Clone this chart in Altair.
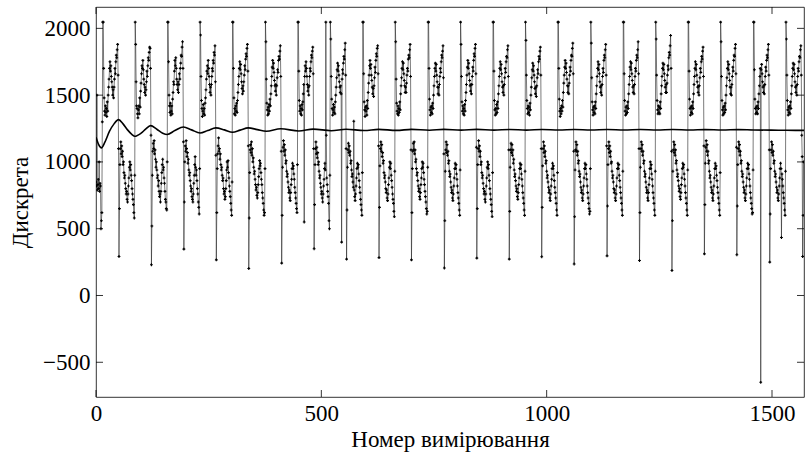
import altair as alt
import pandas as pd

# ---- samples, sample number = position in the series ----
seg00 = [850, 820, 1500, 790, 830, 870, 800, 1000, 780, 840, 820, 500, 560, 620, 1300]

cyc01 = [2047, 2047, 1700, 1480, 1380, 1350, 1420, 1370, 1400, 1340, 1450, 1380,
         1500, 1560, 1620, 1700, 1750, 1680, 1720, 1640, 1600, 1560, 1500, 1540,
         1480, 1560, 1620, 1700, 1660, 1750, 1800, 1780, 1840, 1880, 1650, 1100,
         292, 650, 980, 1100, 1150, 1060, 1120, 1040, 1080, 980, 1000, 920,
         880, 900, 840, 800, 760, 780, 720, 700, 760, 820, 880, 960,
         1000, 940, 980, 900, 860, 800, 760, 720, 680, 620, 580, 900]
cyc02 = [2047, 1880, 1600, 1420, 1400, 1360, 1330, 1390, 1420, 1360, 1480, 1410,
         1530, 1590, 1660, 1720, 1700, 1760, 1690, 1620, 1580, 1520, 1560, 1500,
         1540, 1600, 1680, 1640, 1720, 1780, 1760, 1820, 1860, 1850, 1700, 1200,
         230, 520, 900, 1080, 1140, 1100, 1160, 1060, 1090, 1020, 960, 1000,
         940, 880, 900, 820, 860, 780, 740, 760, 700, 780, 840, 920,
         980, 1020, 940, 960, 880, 840, 780, 720, 700, 650, 640, 1000]
cyc03 = [2047, 2047, 1750, 1500, 1420, 1370, 1440, 1350, 1380, 1420, 1360, 1470,
         1520, 1600, 1580, 1680, 1760, 1720, 1780, 1700, 1620, 1580, 1540, 1600,
         1520, 1580, 1660, 1620, 1700, 1740, 1800, 1790, 1860, 1900, 1700, 1150,
         347, 700, 1000, 1120, 1080, 1160, 1100, 1040, 1070, 990, 1020, 940,
         900, 920, 860, 820, 780, 800, 740, 720, 700, 760, 840, 900,
         980, 1040, 960, 900, 940, 860, 800, 760, 700, 660, 610, 950]
cyc04 = [2047, 1950, 1640, 1460, 1400, 1340, 1380, 1430, 1360, 1400, 1350, 1440,
         1480, 1540, 1620, 1680, 1720, 1660, 1760, 1700, 1640, 1580, 1520, 1560,
         1500, 1580, 1640, 1700, 1680, 1760, 1740, 1820, 1800, 1870, 1600, 1050,
         267, 620, 950, 1060, 1120, 1180, 1080, 1100, 1020, 1060, 980, 940,
         960, 900, 860, 880, 800, 760, 780, 720, 740, 800, 860, 940,
         1000, 960, 1010, 920, 880, 820, 780, 740, 690, 640, 600, 850]
cyc05 = [2047, 2047, 1700, 1480, 1360, 1400, 1350, 1420, 1380, 1440, 1370, 1460,
         1520, 1580, 1640, 1700, 1750, 1690, 1730, 1660, 1600, 1550, 1510, 1570,
         1530, 1600, 1650, 1720, 1690, 1770, 1810, 1790, 1850, 1880, 1680, 1120,
         202, 580, 920, 1090, 1130, 1070, 1150, 1050, 1100, 1000, 1030, 960,
         910, 930, 870, 830, 790, 810, 750, 730, 770, 830, 890, 950,
         1010, 970, 990, 920, 870, 830, 770, 730, 690, 640, 600, 620, 950]
cyc06 = [2047, 1900, 1620, 1440, 1390, 1350, 1410, 1360, 1430, 1380, 1470, 1420,
         1510, 1570, 1640, 1710, 1760, 1700, 1740, 1670, 1610, 1570, 1530, 1580,
         1500, 1570, 1630, 1690, 1670, 1760, 1790, 1770, 1830, 1870, 1640, 1080,
         242, 600, 960, 1110, 1160, 1080, 1130, 1050, 1090, 990, 1010, 930,
         890, 910, 850, 810, 770, 790, 730, 710, 770, 830, 870, 950,
         990, 950, 970, 910, 870, 810, 770, 730, 690, 650, 620, 980]
cyc07 = [2047, 2047, 1680, 1460, 1380, 1420, 1360, 1400, 1350, 1430, 1390, 1450,
         1510, 1580, 550, 1640, 1720, 1680, 1750, 1700, 1640, 1580, 1530, 1560,
         1500, 1570, 1640, 1700, 1680, 1750, 1800, 1780, 1830, 1860, 1660, 1100,
         350, 680, 980, 1100, 1150, 1060, 1110, 1030, 1070, 980, 1000, 930,
         880, 900, 840, 810, 760, 780, 730, 700, 760, 820, 870, 950,
         990, 940, 2047, 1200, 880, 830, 780, 740, 690, 560, 500, 900]
cyc08 = [2047, 1920, 1640, 1470, 1400, 1350, 1390, 1430, 1370, 1410, 1360, 1450,
         1500, 1560, 1630, 1690, 1740, 1680, 1720, 1650, 1600, 1560, 1520, 1570,
         1510, 400, 1620, 1690, 1660, 1740, 1790, 1770, 1840, 1890, 1650, 1100,
         272, 640, 960, 1090, 1140, 1070, 1120, 1050, 1080, 990, 1010, 940,
         890, 910, 850, 810, 1305, 790, 740, 710, 760, 820, 880, 950,
         990, 960, 980, 910, 860, 810, 770, 720, 680, 640, 600, 920]
cyc09 = [2047, 2047, 1660, 1450, 1390, 1340, 1410, 1380, 1420, 1350, 1460, 1400,
         1520, 1590, 1650, 1720, 1760, 1700, 1730, 1650, 1610, 1560, 1510, 1550,
         1490, 1570, 1630, 1710, 1670, 1760, 1810, 1790, 1850, 1870, 1660, 1120,
         284, 660, 970, 1100, 1150, 1080, 1130, 1040, 1070, 990, 1010, 920,
         880, 900, 850, 800, 770, 790, 730, 710, 760, 830, 880, 960,
         1000, 950, 990, 900, 860, 810, 760, 720, 690, 630, 590, 930]
cyc10 = [2047, 1900, 1620, 1440, 1380, 1360, 1420, 1350, 1400, 1370, 1450, 1390,
         1510, 1570, 1630, 1700, 1750, 1690, 1740, 1660, 1610, 1570, 1520, 1560,
         1520, 1590, 1650, 1700, 1680, 1770, 1800, 1780, 1840, 1880, 1640, 1090,
         267, 620, 950, 1080, 1140, 1090, 1150, 1060, 1090, 1000, 1020, 950,
         900, 920, 860, 820, 780, 800, 740, 720, 770, 830, 880, 950,
         1000, 960, 990, 920, 870, 830, 780, 740, 700, 650, 610, 630, 960]
cyc11 = [2047, 2047, 1700, 1470, 1390, 1350, 1410, 1370, 1420, 1360, 1440, 1400,
         1500, 1570, 1640, 1700, 1740, 1680, 1730, 1650, 1600, 1560, 1510, 1560,
         1500, 1580, 1640, 1700, 1670, 1750, 1800, 1780, 1830, 1870, 1630, 1060,
         206, 560, 930, 1090, 1150, 1070, 1130, 1050, 1080, 990, 1010, 930,
         890, 910, 850, 810, 770, 790, 730, 710, 760, 820, 880, 950,
         990, 950, 980, 910, 870, 820, 770, 730, 690, 640, 600, 940]
cyc12 = [2047, 1880, 1640, 1450, 1380, 1420, 1360, 1400, 1350, 1430, 1380, 1460,
         1520, 1580, 1650, 1710, 1760, 1700, 1740, 1660, 1610, 1570, 1530, 1580,
         1510, 1580, 1640, 1710, 1680, 1760, 1810, 1790, 1850, 1880, 1660, 1110,
         280, 650, 980, 1100, 1160, 1080, 1120, 1040, 1080, 980, 1000, 920,
         880, 900, 840, 800, 760, 780, 720, 700, 760, 820, 880, 960,
         1000, 950, 980, 900, 860, 800, 760, 720, 680, 630, 590, 920]
cyc13 = [2047, 2047, 1680, 1460, 1390, 1350, 1400, 1360, 1430, 1370, 1450, 1400,
         1510, 1570, 1640, 1700, 1750, 1690, 1730, 1660, 1600, 1560, 1520, 1570,
         1500, 1580, 1630, 1700, 1670, 1750, 1790, 1780, 1840, 1870, 1640, 1090,
         272, 630, 960, 1090, 1140, 1070, 1130, 1050, 1090, 990, 1020, 940,
         890, 910, 860, 820, 780, 800, 740, 720, 770, 830, 880, 950,
         990, 950, 980, 910, 870, 820, 770, 730, 690, 640, 600, 930]
cyc14 = [2047, 1910, 1650, 1460, 1400, 1360, 1420, 1370, 1410, 1350, 1440, 1390,
         1500, 1560, 1630, 1690, 1740, 1680, 1720, 1650, 1600, 1550, 1510, 1560,
         1490, 1570, 1630, 1690, 1660, 1750, 1790, 1770, 1830, 1860, 1650, 1100,
         290, 660, 970, 1100, 1150, 1070, 1120, 1040, 1080, 990, 1010, 930,
         880, 900, 850, 810, 770, 790, 730, 710, 760, 820, 870, 950,
         990, 950, 970, 900, 860, 810, 770, 730, 690, 640, 600, 920]
cyc15 = [2047, 2047, 1700, 1470, 1380, 1340, 1400, 1360, 1420, 1380, 1460, 1410,
         1520, 1590, 1650, 1710, 1760, 1700, 1740, 1670, 1620, 1570, 1520, 1570,
         1510, 1590, 1650, 1710, 1680, 1760, 1800, 1790, 1850, 1890, 1660, 1080,
         236, 590, 940, 1090, 1150, 1080, 1130, 1050, 1080, 990, 1010, 930,
         890, 910, 850, 810, 770, 790, 730, 710, 760, 820, 880, 950,
         990, 950, 980, 910, 870, 820, 770, 730, 690, 650, 610, 630, 950]
cyc16 = [2047, 1890, 1630, 1450, 1390, 1350, 1410, 1370, 1420, 1360, 1450, 1400,
         1510, 1570, 1640, 1700, 1750, 1690, 1730, 1660, 1600, 1560, 1520, 1570,
         1500, 1580, 1640, 1700, 1670, 1760, 1800, 1780, 1840, 1880, 1650, 1120,
         297, 670, 980, 1100, 1150, 1070, 1120, 1040, 1080, 990, 1000, 930,
         880, 900, 850, 800, 770, 790, 730, 710, 760, 820, 880, 950,
         990, 950, 980, 900, 860, 810, 770, 730, 690, 640, 600, 930]
cyc17 = [2047, 2047, 1660, 1460, 1380, 1350, 1410, 1360, 1420, 1370, 1450, 1400,
         1510, 1580, 1640, 1710, 1750, 1690, 1740, 1660, 1610, 1560, 1520, 1570,
         1510, 1580, 1640, 1700, 1680, 1760, 1800, 1780, 1840, 1900, 1660, 1100,
         262, 620, 960, 1100, 1150, 1080, 1130, 1050, 1080, 990, 1010, 930,
         890, 910, 850, 810, 770, 790, 730, 710, 770, 830, 880, 950,
         1000, 950, 980, 910, 870, 820, 770, 730, 690, 640, 600, 930]
cyc18 = [2047, 1920, 1650, 1460, 1390, 1360, 1420, 1370, 1410, 1360, 1450, 1400,
         1510, 1570, 1640, 1700, 1740, 1690, 1730, 1660, 1610, 1560, 1520, 1580,
         1520, 1590, 1650, 1720, 1690, 1780, 1820, 1800, 1870, 1947, 1700, 1080,
         187, 560, 930, 1090, 1150, 1070, 1130, 1050, 1090, 990, 1010, 940,
         890, 910, 860, 820, 780, 800, 740, 720, 770, 830, 880, 950,
         990, 960, 980, 910, 870, 820, 770, 730, 690, 640, 600, 940]
cyc19 = [2047, 2047, 1680, 1470, 1400, 1350, 1410, 1370, 1420, 1360, 1450, 1400,
         1510, 1580, 1640, 1700, 1750, 1690, 1730, 1650, 1600, 1560, 1520, 1570,
         1500, 1570, 1630, 1700, 1670, 1750, 1790, 1770, 1830, 1860, 1640, 1120,
         312, 680, 990, 1110, 1160, 1080, 1130, 1050, 1080, 990, 1010, 930,
         880, 900, 850, 810, 770, 790, 730, 710, 760, 820, 880, 950,
         990, 950, 970, 900, 860, 810, 770, 730, 690, 640, 600, 920]
cyc20 = [2047, 1900, 1640, 1460, 1390, 1350, 1410, 1360, 1420, 1370, 1440, 1390,
         1500, 1570, 1630, 1700, 1750, 1690, 1730, 1660, 1610, 1560, 1510, 1560,
         1500, 1580, 1640, 1710, 1680, 1760, 1800, 1790, 1850, 1880, 1660, 1110,
         305, 670, 980, 1100, 1150, 1080, 1130, 1050, 1080, 990, 1010, 930,
         890, 910, 850, 810, 770, 790, 730, 710, 760, 820, 880, 950,
         990, 950, 980, 910, 870, 820, 770, 730, 690, 650, 610, 620, 940]
cyc21 = [2047, 2047, 1690, 1470, 1400, 1360, 1410, 1370, 1420, 1360, 1450, 1400,
         1510, 1570, 1640, 1700, -650, 1690, 1730, 1660, 1600, 1560, 1520, 1570,
         1510, 1580, 1640, 1710, 1680, 1760, 1800, 1780, 1840, 1880, 1650, 1090,
         250, 610, 950, 1090, 1150, 1070, 1130, 1050, 1080, 990, 1010, 930,
         890, 910, 850, 810, 770, 790, 730, 710, 760, 820, 880, 950,
         990, 950, 434, 910, 870, 820, 770, 730, 690, 640, 600, 930]
cyc22 = [2047, 1920, 1650, 1460, 1390, 1350, 1410, 1370, 1420, 1360, 1450, 1400,
         1510, 1570, 1640, 1700, 1740, 1690, 1730, 1660, 1600, 1560, 1520, 1570,
         1500, 1580, 1640, 1700, 1680, 1750, 1790, 1780, 1840, 1870, 1650, 1200,
         1040, 292, 600, 1000]

# running mean curve (sample number, value)
mean_n = [0, 6, 12, 20, 30, 40, 50, 60, 70, 80, 86, 100, 110, 121, 135, 148, 158,
          175, 194, 212, 231, 248, 266, 285, 303, 320, 338, 358, 378, 410, 450,
          482, 522, 555, 595, 627, 667, 700, 740, 772, 810, 845, 883, 918, 955,
          990, 1027, 1062, 1098, 1135, 1172, 1208, 1245, 1280, 1318, 1352, 1390,
          1425, 1460, 1498, 1532, 1571]
mean_v = [1185, 1130, 1105, 1150, 1230, 1285, 1317, 1285, 1240, 1205, 1192, 1215,
          1245, 1272, 1245, 1215, 1205, 1235, 1262, 1240, 1217, 1235, 1255, 1240,
          1222, 1238, 1255, 1242, 1230, 1248, 1232, 1246, 1234, 1245, 1235, 1244,
          1236, 1244, 1237, 1244, 1238, 1244, 1238, 1243, 1238, 1243, 1239, 1243,
          1239, 1243, 1239, 1243, 1239, 1243, 1239, 1242, 1239, 1242, 1239, 1238,
          1237, 1236]

x_ticks = [0, 500, 1000, 1500]
y_ticks = [-500, 0, 500, 1000, 1500, 2000]

# ---------------------------------------------------------------------------
series = (seg00 + cyc01 + cyc02 + cyc03 + cyc04 + cyc05 + cyc06 + cyc07 + cyc08
          + cyc09 + cyc10 + cyc11 + cyc12 + cyc13 + cyc14 + cyc15 + cyc16 + cyc17
          + cyc18 + cyc19 + cyc20 + cyc21 + cyc22)
df = pd.DataFrame({"n": list(range(len(series))), "v": series})
mdf = pd.DataFrame({"n": mean_n, "v": mean_v})
xt = pd.DataFrame({"n": x_ticks})
yt = pd.DataFrame({"v": y_ticks})

W, H = 708, 390
xs = alt.Scale(domain=[0, 1571], nice=False, zero=False)
ys = alt.Scale(domain=[-760, 2160], nice=False, zero=False)

x_axis = alt.Axis(values=x_ticks, format="d", labelPadding=5, titlePadding=3,
                  title="Номер вимірювання")
y_axis = alt.Axis(values=y_ticks, format="d", labelPadding=6, titlePadding=10,
                  title="Дискрета")

X = alt.X("n:Q", scale=xs, axis=x_axis)
Y = alt.Y("v:Q", scale=ys, axis=y_axis)

line = alt.Chart(df).mark_line(color="#222222", strokeWidth=0.6, clip=True).encode(x=X, y=Y)
pts = alt.Chart(df).mark_point(shape="cross", size=8, filled=True, color="black",
                               opacity=1, strokeWidth=0, clip=True).encode(x=X, y=Y)
mean_line = alt.Chart(mdf).mark_line(color="black", strokeWidth=1.6,
                                     interpolate="monotone", clip=True).encode(x=X, y=Y)

tick_style = dict(color="black", strokeWidth=0.8)
t_left = alt.Chart(yt).mark_rule(**tick_style).encode(y=Y, x=alt.value(0), x2=alt.value(7))
t_right = alt.Chart(yt).mark_rule(**tick_style).encode(y=Y, x=alt.value(W - 7), x2=alt.value(W))
t_bottom = alt.Chart(xt).mark_rule(**tick_style).encode(x=X, y=alt.value(H - 7), y2=alt.value(H))
t_top = alt.Chart(xt).mark_rule(**tick_style).encode(x=X, y=alt.value(0), y2=alt.value(7))

chart = alt.layer(line, pts, mean_line, t_left, t_right, t_bottom, t_top).properties(
    width=W, height=H,
    autosize=alt.AutoSizeParams(type="none"),
    padding={"left": 96, "top": 7, "right": 6, "bottom": 63},
    background="white",
).configure(
    font="serif",
).configure_axis(
    labelFont="serif", titleFont="serif", labelFontSize=23, titleFontSize=23,
    labelColor="black", titleColor="black", titleFontWeight="normal",
    ticks=False, domain=False, grid=False, labelFlush=False, labelOverlap=False,
).configure_view(stroke="black", strokeWidth=0.8)

chart.save("out.html", embed_options={"renderer": "svg", "actions": False})
